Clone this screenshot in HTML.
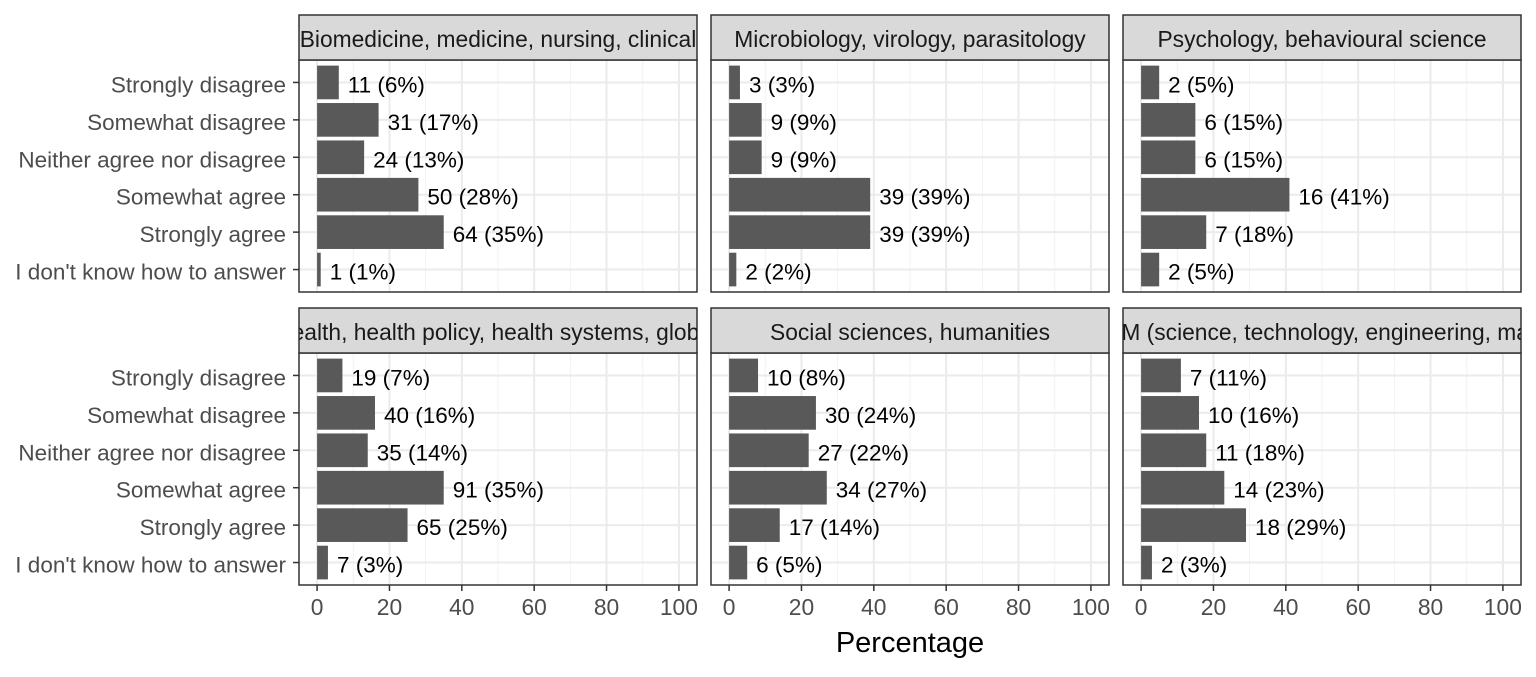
<!DOCTYPE html>
<html><head><meta charset="utf-8"><style>
body{margin:0;background:#fff}
svg text{font-family:"Liberation Sans",sans-serif}
</style></head><body>
<svg id="chart" width="1536" height="672" xmlns="http://www.w3.org/2000/svg"></svg>
<script>
const categories=["Strongly disagree","Somewhat disagree","Neither agree nor disagree","Somewhat agree","Strongly agree","I don't know how to answer"];
const facetTitles=["Biomedicine, medicine, nursing, clinical","Microbiology, virology, parasitology","Psychology, behavioural science","Public health, health policy, health systems, global health","Social sciences, humanities","STEM (science, technology, engineering, maths)"];
const counts1=[11,31,24,50,64,1];const pct1=[6,17,13,28,35,1];
const counts2=[3,9,9,39,39,2];const pct2=[3,9,9,39,39,2];
const counts3=[2,6,6,16,7,2];const pct3=[5,15,15,41,18,5];
const counts4=[19,40,35,91,65,7];const pct4=[7,16,14,35,25,3];
const counts5=[10,30,27,34,17,6];const pct5=[8,24,22,27,14,5];
const counts6=[7,10,11,14,18,2];const pct6=[11,16,18,23,29,3];
const xTicks=[0,20,40,60,80,100];
const allCounts=[counts1,counts2,counts3,counts4,counts5,counts6];
const allPct=[pct1,pct2,pct3,pct4,pct5,pct6];
const svg=document.getElementById('chart');
const NS='http://www.w3.org/2000/svg';
function mk(tag,attrs,parent){const e=document.createElementNS(NS,tag);for(const k in attrs)e.setAttribute(k,attrs[k]);(parent||svg).appendChild(e);return e;}
const colX=[299,711,1123],rowY=[60,353],PW=398,PH=232,stripH=45;
const defs=mk('defs',{});
for(let f=0;f<6;f++){
  const px=colX[f%3],py=rowY[Math.floor(f/3)];
  const xs=v=>px+(v+5)/110*PW;
  const band=PH/6.2;
  const ys=i=>py+(0.6+i)*band;
  const g=mk('g',{});
  
  
  mk('rect',{x:px,y:py,width:PW,height:PH,fill:'#fff'},g);
  for(let v=10;v<=90;v+=20){mk('line',{x1:xs(v),x2:xs(v),y1:py,y2:py+PH,stroke:'#f2f2f2','stroke-width':1},g);}
  xTicks.forEach(v=>mk('line',{x1:xs(v),x2:xs(v),y1:py,y2:py+PH,stroke:'#ebebeb','stroke-width':2},g));
  categories.forEach((c,i)=>mk('line',{x1:px,x2:px+PW,y1:ys(i),y2:ys(i),stroke:'#ebebeb','stroke-width':2},g));
  allPct[f].forEach((p,i)=>{
    const r=mk('rect',{x:xs(0),y:ys(i)-band*0.45,width:xs(p)-xs(0),height:band*0.9,fill:'#595959'},g);
    
    
    const t=mk('text',{x:xs(p)+9,y:ys(i)+10,'font-size':22.5,fill:'#000'},g);
    
    
    t.textContent=allCounts[f][i]+' ('+p+'%)';
  });
  mk('rect',{x:px,y:py,width:PW,height:PH,fill:'none',stroke:'#333','stroke-width':1.5},g);
  const sy=py-stripH;
  const cp=mk('clipPath',{id:'clip'+f},defs);
  mk('rect',{x:px,y:sy,width:PW,height:stripH},cp);
  mk('rect',{x:px,y:sy,width:PW,height:stripH,fill:'#d9d9d9',stroke:'#333','stroke-width':1.5},g);
  const st=mk('text',{x:px+PW/2,y:sy+32,'font-size':22.8,fill:'#1a1a1a','text-anchor':'middle','clip-path':'url(#clip'+f+')'},g);
  
  
  st.textContent=facetTitles[f];
  if(f%3===0){
    categories.forEach((c,i)=>{
      mk('line',{x1:px-6,x2:px,y1:ys(i),y2:ys(i),stroke:'#333','stroke-width':1.5},g);
      const t=mk('text',{x:px-13,y:ys(i)+10,'font-size':22.5,fill:'#4d4d4d','text-anchor':'end'},g);
      
      
      t.textContent=c;
    });
  }
  if(f>=3){
    xTicks.forEach(v=>{
      mk('line',{x1:xs(v),x2:xs(v),y1:py+PH,y2:py+PH+6,stroke:'#333','stroke-width':1.5},g);
      const t=mk('text',{x:xs(v),y:py+PH+30,'font-size':22.8,fill:'#4d4d4d','text-anchor':'middle'},g);
      
      
      t.textContent=v;
    });
  }
}
const xt=mk('text',{x:910,y:652,'font-size':29,fill:'#000','text-anchor':'middle'});


xt.textContent='Percentage';
</script>
</body></html>
